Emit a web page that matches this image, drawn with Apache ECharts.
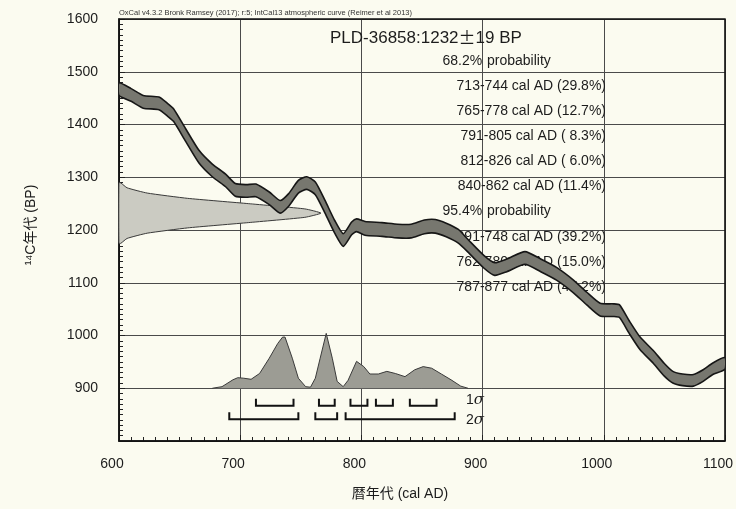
<!DOCTYPE html>
<html>
<head>
<meta charset="utf-8">
<title>PLD-36858 calibration</title>
<script src="https://cdn.jsdelivr.net/npm/echarts/dist/echarts.min.js"></script>
<style>
  html, body { margin: 0; padding: 0; background: #fbfbf0; }
  #chart { width: 736px; height: 509px; }
</style>
</head>
<body>
<div id="chart"></div>
<script>
// IntCal13 calibration curve (cal AD vs 14C BP) with its 1-sigma half width
const calYears = [600, 610, 620, 633, 640, 645, 655, 666, 677, 688, 696, 705, 713, 724, 733, 740, 748, 755, 762, 770, 778, 785, 792, 796, 803, 817, 830, 841, 852, 861, 870, 880, 888, 901, 910, 920, 935, 948, 961, 975, 986, 997, 1008, 1013, 1021, 1030, 1041, 1050, 1057, 1065, 1074, 1082, 1090, 1100];
const curveBP  = [1467, 1456, 1443, 1440, 1428, 1418, 1380, 1339, 1313, 1294, 1276, 1274, 1275, 1260, 1244, 1257, 1282, 1289, 1279, 1244, 1206, 1181, 1203, 1209, 1203, 1201, 1198, 1198, 1206, 1207, 1200, 1188, 1170, 1140, 1126, 1133, 1147, 1133, 1117, 1093, 1070, 1049, 1048, 1046, 1016, 985, 959, 935, 921, 916, 915, 924, 937, 947];
const curveErr = [12, 12, 12, 12, 12, 12, 12, 12, 12, 12, 12, 12, 12, 12, 12, 12, 12, 12, 12, 12, 12, 12, 12, 12, 13, 13, 13, 13, 13, 13, 13, 13, 12, 12, 12, 12, 12, 12, 12, 12, 12, 12, 12, 12, 12, 12, 12, 12, 11, 11, 11, 11, 11, 11];

// Measured radiocarbon age (relative probability across BP)
const dateBP   = [1290, 1289, 1280, 1270, 1260, 1250, 1240, 1232, 1224, 1214, 1204, 1194, 1184, 1175, 1174];
const dateProb = [0, 0.01, 0.04, 0.14, 0.34, 0.64, 0.92, 1.0, 0.92, 0.64, 0.34, 0.14, 0.04, 0.01, 0];

// Calibrated age distribution (relative probability across cal AD)
const postYears = [677, 685, 694, 698, 703, 709, 716, 724, 731, 735, 737, 743, 748, 754, 758, 762, 766, 771, 776, 780, 785, 789, 796, 802, 807, 814, 821, 828, 836, 844, 851, 858, 866, 874, 882, 888];
const postProb  = [0, 0.03, 0.16, 0.20, 0.19, 0.17, 0.28, 0.57, 0.85, 0.97, 0.97, 0.57, 0.19, 0.03, 0.02, 0.19, 0.57, 1.04, 0.57, 0.13, 0.03, 0.15, 0.51, 0.41, 0.27, 0.27, 0.32, 0.28, 0.22, 0.35, 0.41, 0.38, 0.27, 0.16, 0.04, 0];

// Calibrated ranges: [from, to, percent]
const sigma1Ranges = [[713, 744, 29.8], [765, 778, 12.7], [791, 805, 8.3], [812, 826, 6.0], [840, 862, 11.4]];
const sigma2Ranges = [[691, 748, 39.2], [762, 780, 15.0], [787, 877, 47.2]];

const sampleName = 'PLD-36858';
const sampleAge = 1232;
const sampleErr = 19;
const headerText = 'OxCal v4.3.2 Bronk Ramsey (2017); r:5; IntCal13 atmospheric curve (Reimer et al 2013)';
const xTitle = '暦年代 (cal AD)';
const yTitle = '¹⁴C年代 (BP)';

const LATIN = '"Liberation Sans", Arial, "Noto Sans CJK JP", sans-serif';
const INK = '#1c1c1c';

function rangeText(r) {
  const pct = r[2] < 10 ? ' ' + r[2].toFixed(1) : r[2].toFixed(1);
  return r[0] + '-' + r[1] + ' cal AD (' + pct + '%)';
}

// Summary text block on the right of the plot
const textLines = [];
const lineStep = 25.1;
let ty = 61;
function probHeader(label) {
  textLines.push({ type: 'text', x: 486, y: ty, z: 1,
    style: { text: label + '% ', font: '14px ' + LATIN, fill: INK, textAlign: 'right', textVerticalAlign: 'middle' } });
  textLines.push({ type: 'text', x: 487, y: ty, z: 1,
    style: { text: 'probability', font: '14px ' + LATIN, fill: INK, textAlign: 'left', textVerticalAlign: 'middle' } });
  ty += lineStep;
}
function rangeLines(list) {
  list.forEach(function (r) {
    textLines.push({ type: 'text', x: 606, y: ty, z: 1,
      style: { text: rangeText(r), font: '14px ' + LATIN, fill: INK, textAlign: 'right', textVerticalAlign: 'middle' } });
    ty += lineStep;
  });
}
probHeader('68.2');
rangeLines(sigma1Ranges);
probHeader('95.4');
rangeLines(sigma2Ranges);

const chart = echarts.init(document.getElementById('chart'), null, { renderer: 'canvas' });

function calibrationBand(params, api) {
  const upper = calYears.map(function (x, i) { return api.coord([x, curveBP[i] + curveErr[i]]); });
  const lower = calYears.map(function (x, i) { return api.coord([x, curveBP[i] - curveErr[i]]); }).reverse();
  return {
    type: 'polygon',
    shape: { points: upper.concat(lower), smooth: 0.2 },
    style: { fill: '#77776f', stroke: '#161616', lineWidth: 1.6 }
  };
}

function measuredAge(params, api) {
  const pts = dateBP.map(function (b, i) { return api.coord([dateProb[i], b]); });
  return {
    type: 'polygon',
    shape: { points: pts, smooth: 0.15 },
    style: { fill: '#cbcbc2', stroke: '#3a3a3a', lineWidth: 1 }
  };
}

// 1-sigma row sits just under the distribution, 2-sigma row below it
function rangeBrackets(params, api) {
  const row = api.value(2);
  const level = row === 0 ? 867 : 841;
  const a = api.coord([api.value(0), level]);
  const b = api.coord([api.value(1), level]);
  const tick = 7;
  return {
    type: 'polyline',
    shape: { points: [[a[0], a[1] - tick], [a[0], a[1]], [b[0], b[1]], [b[0], b[1] - tick]] },
    style: { fill: null, stroke: '#111', lineWidth: 2 }
  };
}

const bracketData = sigma1Ranges.map(function (r) { return [r[0], r[1], 0]; })
  .concat(sigma2Ranges.map(function (r) { return [r[0], r[1], 1]; }));

chart.setOption({
  backgroundColor: '#fbfbf0',
  animation: false,
  grid: { left: 119, right: 7, top: 19, bottom: 68, show: true, borderColor: '#111', borderWidth: 1.5, backgroundColor: 'transparent', z: 3 },
  xAxis: [
    {
      type: 'value', min: 600, max: 1100, interval: 100,
      axisLine: { show: true, onZero: false, lineStyle: { color: '#111', width: 1.5 } },
      axisTick: { show: true, inside: true, length: 6, lineStyle: { color: '#222' } },
      minorTick: { show: true, splitNumber: 10, length: 4, lineStyle: { color: '#222' } },
      splitLine: { show: true, lineStyle: { color: '#4a4a4a', width: 1 } },
      axisLabel: {
        margin: 16, color: INK, fontSize: 14, fontFamily: LATIN,
        formatter: function (v) { return '{n|' + v + '}'; },
        rich: { n: { fontSize: 14, fontFamily: LATIN, color: INK, padding: [0, 14, 0, 0] } }
      }
    },
    { type: 'value', min: 0, max: 3, show: false, gridIndex: 0, axisLine: { onZero: false } }
  ],
  yAxis: [
    {
      type: 'value', min: 800, max: 1600, interval: 100,
      axisLine: { show: true, onZero: false, lineStyle: { color: '#111', width: 1.5 } },
      axisTick: { show: true, inside: true, length: 6, lineStyle: { color: '#222' } },
      minorTick: { show: true, splitNumber: 10, length: 4, lineStyle: { color: '#222' } },
      splitLine: { show: true, lineStyle: { color: '#4a4a4a', width: 1 } },
      axisLabel: {
        margin: 21, color: INK, fontSize: 14, fontFamily: LATIN, padding: [5, 0, 0, 0],
        formatter: function (v) { return v === 800 ? '' : String(v); }
      }
    },
    { type: 'value', min: -1, max: 7, show: false, gridIndex: 0, axisLine: { onZero: false } }
  ],
  series: [
    {
      type: 'custom', name: 'measured', xAxisIndex: 1, yAxisIndex: 0, z: 3,
      renderItem: measuredAge, data: [[0, sampleAge]], encode: { x: 0, y: 1 }, silent: true
    },
    {
      type: 'line', name: 'calibrated', xAxisIndex: 0, yAxisIndex: 1, z: 3,
      data: postYears.map(function (x, i) { return [x, postProb[i]]; }),
      symbol: 'none', lineStyle: { color: '#3a3a3a', width: 1 },
      areaStyle: { color: '#9c9c94', opacity: 1 }, silent: true
    },
    {
      type: 'custom', name: 'IntCal13', xAxisIndex: 0, yAxisIndex: 0, z: 4, clip: true,
      renderItem: calibrationBand, data: [[calYears[0], curveBP[0]]], encode: { x: 0, y: 1 }, silent: true
    },
    {
      type: 'custom', name: 'ranges', xAxisIndex: 0, yAxisIndex: 0, z: 4,
      renderItem: rangeBrackets, data: bracketData, encode: { x: [0, 1] }, silent: true
    }
  ],
  graphic: [
    { type: 'text', x: 119, y: 13, z: 5,
      style: { text: headerText, font: '7.5px ' + LATIN, fill: '#333', textAlign: 'left', textVerticalAlign: 'middle' } },
    { type: 'text', x: 330, y: 38, z: 5,
      style: {
        text: '{a|' + sampleName + ':' + sampleAge + '}{b|±}{a|' + sampleErr + ' BP}',
        textAlign: 'left', textVerticalAlign: 'middle',
        rich: {
          a: { fontSize: 17, fontFamily: LATIN, fill: INK, color: INK },
          b: { fontSize: 17, fontFamily: '"Noto Sans CJK JP", sans-serif', fill: INK, color: INK }
        }
      } },
    { type: 'text', x: 466, y: 400, z: 5,
      style: { text: '{n|1}{s|σ}', textAlign: 'left', textVerticalAlign: 'middle',
        rich: { n: { fontSize: 14, fontFamily: LATIN, fill: INK }, s: { fontSize: 15, fontStyle: 'italic', fontFamily: '"DejaVu Serif", serif', fill: INK } } } },
    { type: 'text', x: 466, y: 420, z: 5,
      style: { text: '{n|2}{s|σ}', textAlign: 'left', textVerticalAlign: 'middle',
        rich: { n: { fontSize: 14, fontFamily: LATIN, fill: INK }, s: { fontSize: 15, fontStyle: 'italic', fontFamily: '"DejaVu Serif", serif', fill: INK } } } },
    { type: 'text', x: 400, y: 494, z: 5,
      style: { text: xTitle, font: '14px ' + LATIN, fill: INK, textAlign: 'center', textVerticalAlign: 'middle' } },
    { type: 'text', x: 31, y: 225, z: 5, rotation: Math.PI / 2,
      style: { text: yTitle, font: '14px ' + LATIN, fill: INK, textAlign: 'center', textVerticalAlign: 'middle' } }
  ].concat(textLines)
});
</script>
</body>
</html>
